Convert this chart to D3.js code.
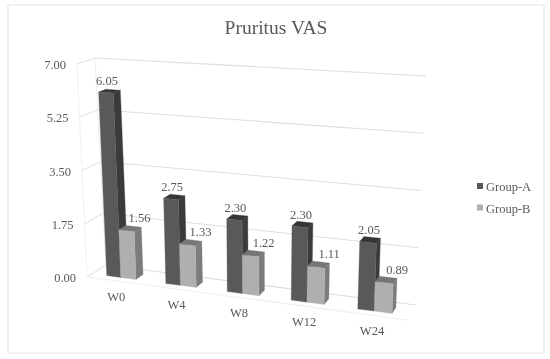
<!DOCTYPE html>
<html>
  <head>
    <meta charset="utf-8" />
    <title>Pruritus VAS</title>
    <script src="https://d3js.org/d3.v7.min.js"></script>
    <style>
      body { margin: 0; background: #fff; }
      svg { display: block; filter: blur(0.4px); }
      text { font-family: "Liberation Serif", serif; fill: #595959; }
    </style>
  </head>
  <body>
    <svg width="550" height="359"></svg>
    <script>
      var categories = ["W0", "W4", "W8", "W12", "W24"];
      var seriesNames = ["Group-A", "Group-B"];
      var groupA = [6.05, 2.75, 2.3, 2.3, 2.05];
      var groupB = [1.56, 1.33, 1.22, 1.11, 0.89];
      var valueTicks = [0, 1.75, 3.5, 5.25, 7];

      var svg = d3.select("svg");

      // the four corners of the front and back planes, as seen in the picture
      var front = { bl: [87, 277], br: [407, 320], tl: [77, 64], tr: [417, 84] };
      var back = { bl: [106, 265], br: [416, 305], tl: [95, 58], tr: [426, 76] };

      var value = d3.scaleLinear().domain([0, 7]).range([0, 1]);
      var band = d3.scaleBand().domain(categories).range([0, 1]).paddingInner(0.5).paddingOuter(0.25);
      var splitA = 0.48;

      // later bands get wider, like the perspective in the original
      function warp(u) {
        return u / (1 + 0.105 * (1 - u));
      }

      function project(u, v, z) {
        var s = warp(u);
        function plane(p, i) {
          var bottom = p.bl[i] + (p.br[i] - p.bl[i]) * s;
          var top = p.tl[i] + (p.tr[i] - p.tl[i]) * s;
          return bottom + (top - bottom) * v;
        }
        return [
          plane(front, 0) + (plane(back, 0) - plane(front, 0)) * z,
          plane(front, 1) + (plane(back, 1) - plane(front, 1)) * z,
        ];
      }

      function line(a, b, color) {
        svg
          .append("line")
          .attr("x1", a[0])
          .attr("y1", a[1])
          .attr("x2", b[0])
          .attr("y2", b[1])
          .attr("stroke", color)
          .attr("stroke-width", 1.1);
      }

      // frame
      svg
        .append("rect")
        .attr("x", 8)
        .attr("y", 5)
        .attr("width", 536)
        .attr("height", 348)
        .attr("fill", "#fff")
        .attr("stroke", "#e8e8e8")
        .attr("stroke-width", 1.2);

      svg
        .append("text")
        .attr("x", 276)
        .attr("y", 34)
        .attr("text-anchor", "middle")
        .attr("font-size", 19.5)
        .text("Pruritus VAS");

      // walls
      line(project(0, 0, 0), project(0, 1, 0), "#f2f2f2");
      line(project(0, 0, 1), project(0, 1, 1), "#f0f0f0");
      line(project(0, 0, 0), project(1, 0, 0), "#eeeeee");
      valueTicks.forEach(function (t) {
        var v = value(t);
        line(project(0, v, 0), project(0, v, 1), "#e4e4e4");
        line(project(0, v, 1), project(1, v, 1), "#dedede");
        var p = project(0, v, 0);
        svg
          .append("text")
          .attr("x", p[0] - 11)
          .attr("y", p[1] + 5)
          .attr("text-anchor", "end")
          .attr("font-size", 12.5)
          .text(t.toFixed(2));
      });

      var colors = [
        { front: "#595959", side: "#3b3b3b", top: "#353535" },
        { front: "#afafaf", side: "#7c7c7c", top: "#767676" },
      ];
      var zNear = 0.28;
      var zFar = 0.68;

      function face(points, color) {
        svg
          .append("path")
          .attr("d", d3.line()(points) + "Z")
          .attr("fill", color)
          .attr("stroke", color)
          .attr("stroke-width", 0.3);
      }

      function bar(u0, u1, d, c) {
        var v = value(d);
        face(
          [project(u0, v, zNear), project(u1, v, zNear), project(u1, v, zFar), project(u0, v, zFar)],
          c.top
        );
        face(
          [project(u1, 0, zNear), project(u1, v, zNear), project(u1, v, zFar), project(u1, 0, zFar)],
          c.side
        );
        face(
          [project(u0, 0, zNear), project(u1, 0, zNear), project(u1, v, zNear), project(u0, v, zNear)],
          c.front
        );
      }

      categories.forEach(function (cat, i) {
        var u0 = band(cat);
        var w = band.bandwidth();
        var uMid = u0 + w * splitA;
        var uEnd = u0 + w;

        bar(u0, uMid, groupA[i], colors[0]);
        bar(uMid, uEnd, groupB[i], colors[1]);

        var a = project((u0 + uMid) / 2, value(groupA[i]), zNear);
        svg
          .append("text")
          .attr("x", a[0] + 1)
          .attr("y", a[1] - 8)
          .attr("text-anchor", "middle")
          .attr("font-size", 12.5)
          .text(groupA[i].toFixed(2));

        var b = project((uMid + uEnd) / 2, value(groupB[i]), zNear);
        svg
          .append("text")
          .attr("x", b[0] + 13)
          .attr("y", b[1] - 9)
          .attr("text-anchor", "middle")
          .attr("font-size", 12.5)
          .text(groupB[i].toFixed(2));

        var c = project(u0 + w / 2, 0, 0);
        svg
          .append("text")
          .attr("x", c[0])
          .attr("y", c[1] + 20)
          .attr("text-anchor", "middle")
          .attr("font-size", 12.5)
          .text(cat);
      });

      // legend
      var legend = svg
        .selectAll(".legend")
        .data(seriesNames)
        .enter()
        .append("g")
        .attr("class", "legend")
        .attr("transform", function (d, i) {
          return "translate(477," + (183 + i * 21.5) + ")";
        });
      legend
        .append("rect")
        .attr("width", 6)
        .attr("height", 6)
        .attr("fill", function (d, i) {
          return colors[i].front;
        });
      legend
        .append("text")
        .attr("x", 9)
        .attr("y", 8)
        .attr("font-size", 12.5)
        .text(function (d) {
          return d;
        });
    </script>
  </body>
</html>
